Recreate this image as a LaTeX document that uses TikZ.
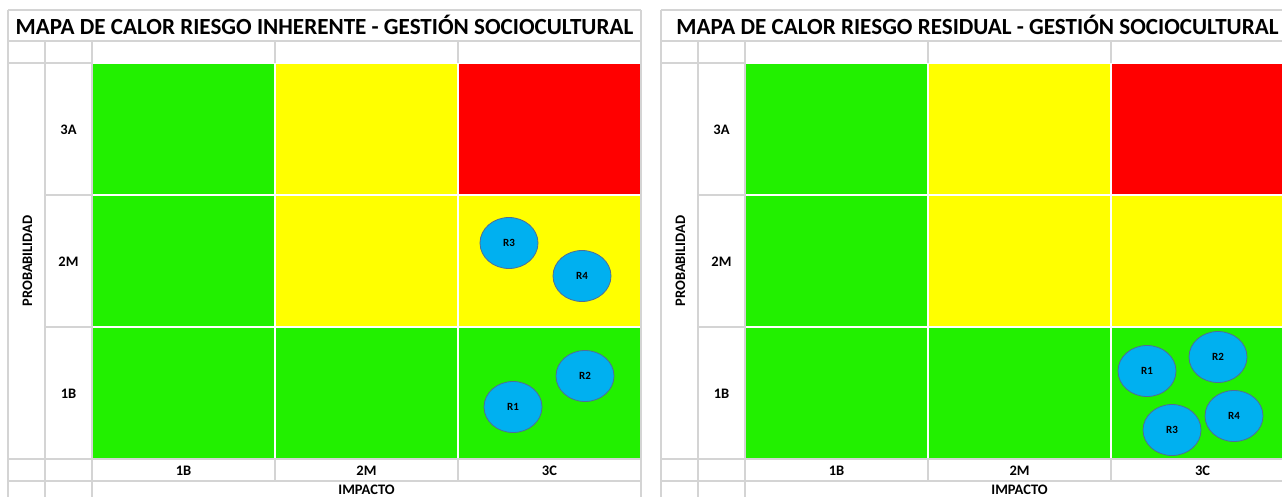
\documentclass[tikz,border=0pt]{standalone}
\usepackage{fontspec}
\setmainfont{Carlito}
\usetikzlibrary{shapes.geometric}
\definecolor{hmgreen}{RGB}{34,240,0}
\definecolor{hmyellow}{RGB}{255,255,0}
\definecolor{hmred}{RGB}{255,0,0}
\definecolor{gridgray}{RGB}{212,212,212}
\definecolor{bubblefill}{RGB}{0,176,240}
\definecolor{bubbleline}{RGB}{80,110,150}
\newcommand{\hmcell}[3]{% col row color
  \fill[#3] ({92+183*#1+1.2},{63+132*#2+1.2}) rectangle ({92+183*(#1+1)-1.2},{63+132*(#2+1)-1.2});}
\newcommand{\hmpanel}[3]{% shift, prefix, title
\begin{scope}[xshift=#1]
  % grid lines
  \draw[gridline] (8,10) -- (641,10);
  \draw[gridline] (8,41) -- (641,41);
  \draw[gridline] (8,63) -- (92,63);
  \draw[gridline] (45,195) -- (92,195);
  \draw[gridline] (45,327) -- (92,327);
  \draw[gridline] (8,459) -- (641,459);
  \draw[gridline] (8,481) -- (641,481);
  \draw[gridline] (8,10) -- (8,500);
  \draw[gridline] (45,41) -- (45,500);
  \draw[gridline] (92,41) -- (92,500);
  \draw[gridline] (275,41) -- (275,63);
  \draw[gridline] (458,41) -- (458,63);
  \draw[gridline] (275,459) -- (275,481);
  \draw[gridline] (458,459) -- (458,481);
  \draw[gridline] (641,10) -- (641,500);
  % heat cells
  \hmcell{0}{0}{hmgreen}\hmcell{1}{0}{hmyellow}\hmcell{2}{0}{hmred}
  \hmcell{0}{1}{hmgreen}\hmcell{1}{1}{hmyellow}\hmcell{2}{1}{hmyellow}
  \hmcell{0}{2}{hmgreen}\hmcell{1}{2}{hmgreen}\hmcell{2}{2}{hmgreen}
  % texts
  \node[titletext, anchor=base] (#2title) at (324.5,34) {#3};
  \node[labtext, rotate=90] (#2prob) at (27.5,261) {PROBABILIDAD};
  \node[labtext, anchor=base] (#2r3) at (68.5,134) {3A};
  \node[labtext, anchor=base] (#2r2) at (68.5,266) {2M};
  \node[labtext, anchor=base] (#2r1) at (68.5,398) {1B};
  \node[labtext, anchor=base] (#2c1) at (183.5,475) {1B};
  \node[labtext, anchor=base] (#2c2) at (366.5,475) {2M};
  \node[labtext, anchor=base] (#2c3) at (549.5,475) {3C};
  \node[labtext, anchor=base] (#2imp) at (366.5,494) {IMPACTO};
\end{scope}}
\begin{document}
\begin{tikzpicture}[x=1pt,y=-1pt,
  gridline/.style={draw=gridgray, line width=1.5pt},
  titletext/.style={font=\fontsize{23.1}{23.1}\selectfont\bfseries, inner sep=0pt},
  labtext/.style={font=\fontsize{14.5}{14.5}\selectfont\bfseries, inner sep=0pt},
  bubble/.style={ellipse, draw=bubbleline, fill=bubblefill, line width=0.8pt,
    minimum width=58pt, minimum height=51pt, inner sep=0pt,
    font=\fontsize{11}{11}\selectfont\bfseries}]
\useasboundingbox (0,0) rectangle (1282,496);
\clip (0,0) rectangle (1282,496);
\fill[white] (0,0) rectangle (1282,496);
\hmpanel{0pt}{L}{MAPA DE CALOR RIESGO INHERENTE - GESTIÓN SOCIOCULTURAL}
\hmpanel{653pt}{R}{MAPA DE CALOR RIESGO RESIDUAL - GESTIÓN SOCIOCULTURAL}
% bubbles left
\node[bubble] (LR3) at (509,243) {R3};
\node[bubble] (LR4) at (582,276) {R4};
\node[bubble] (LR2) at (585,376) {R2};
\node[bubble] (LR1) at (513,407) {R1};
% bubbles right
\node[bubble] (RR1) at (1147,371) {R1};
\node[bubble] (RR2) at (1218,357) {R2};
\node[bubble] (RR3) at (1172,430) {R3};
\node[bubble] (RR4) at (1234,416) {R4};
\end{tikzpicture}
\end{document}
